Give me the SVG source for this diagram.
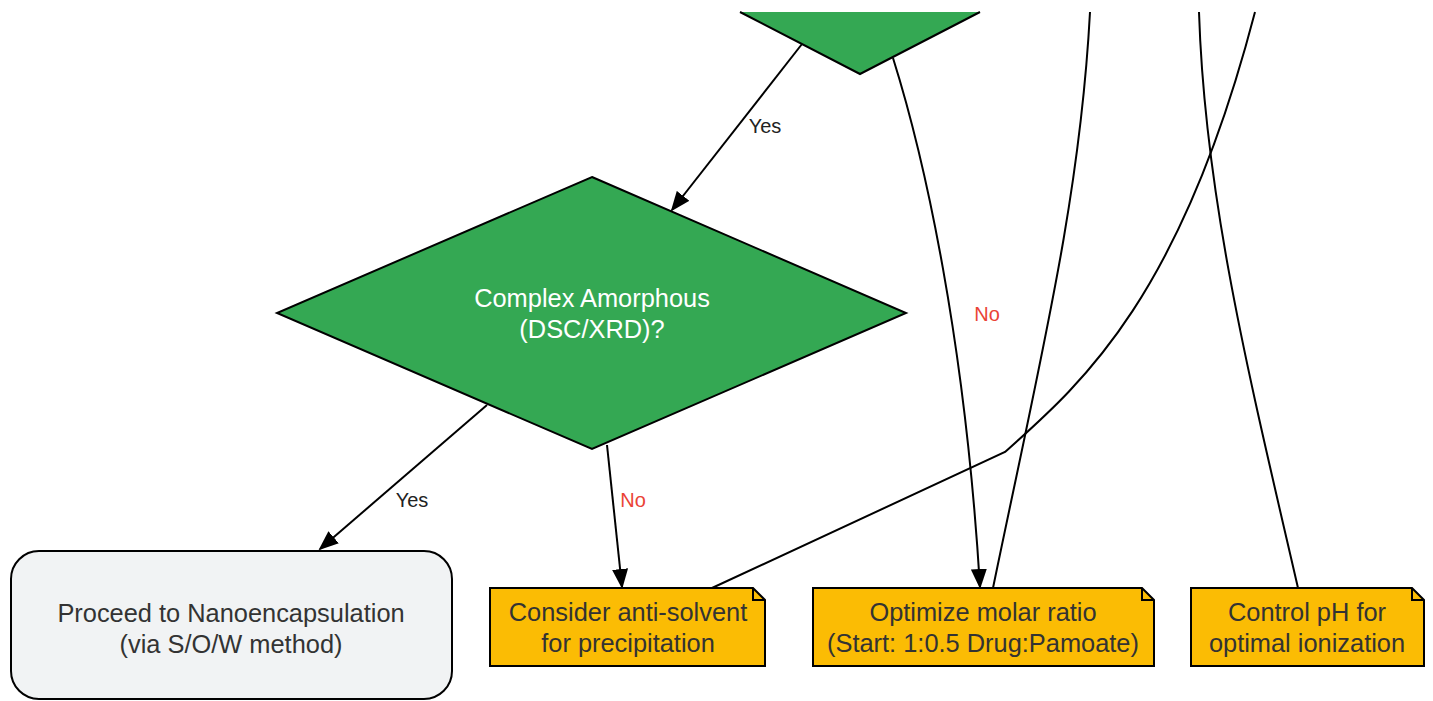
<svg xmlns="http://www.w3.org/2000/svg" width="1433" height="701" viewBox="0 0 1433 701">
<style>
.t{font-family:"Liberation Sans",Arial,sans-serif;font-size:25.4px;text-anchor:middle}
.dt{fill:#ffffff}
.nt{fill:#333333}
.lb{font-family:"Liberation Sans",Arial,sans-serif;font-size:20px;text-anchor:middle;fill:#222222}
.red{fill:#ea4335}
.dia{fill:#34a853;stroke:#000;stroke-width:2}
.note{fill:#fbbc04;stroke:#000;stroke-width:2}
.e{fill:none;stroke:#000;stroke-width:2}
</style>
<defs>
<marker id="ah" markerWidth="10" markerHeight="8" refX="9" refY="4" orient="auto" markerUnits="strokeWidth">
<path d="M0,0 L10,4 L0,8 Z" fill="#000"/>
</marker>
</defs>
<rect width="1433" height="701" fill="#fff"/>
<g id="connectors">
<path class="e" d="M802,44 L672,210" marker-end="url(#ah)"/>
<path class="e" d="M893,58 C925,160 965,340 980,587" marker-end="url(#ah)"/>
<path class="e" d="M487,405 L320,549" marker-end="url(#ah)"/>
<path class="e" d="M607,445 L622,587" marker-end="url(#ah)"/>
<path class="e" d="M712,588 L1005,452 C1080,385 1180,300 1255,12"/>
<path class="e" d="M993,588 C1040,360 1080,200 1090,12"/>
<path class="e" d="M1298,588 C1250,380 1205,200 1199,12"/>
<text class="lb" x="765" y="133">Yes</text>
<text class="lb red" x="987" y="321">No</text>
<text class="lb" x="412" y="507">Yes</text>
<text class="lb red" x="633" y="507">No</text>
</g>
<g id="decision-top">
<polygon points="740,12 860,74 980,12" fill="#34a853"/>
<polyline class="e" points="740,12 860,74 980,12"/>
</g>
<g id="decision-amorphous">
<polygon class="dia" points="592,177 906,313 592,449 277,313"/>
<text class="t dt" x="592" y="307">Complex Amorphous</text>
<text class="t dt" x="592" y="338">(DSC/XRD)?</text>
</g>
<g id="proceed">
<rect x="11" y="551" width="441" height="148" rx="28" fill="#f1f3f4" stroke="#000" stroke-width="2"/>
<text class="t nt" x="231" y="622">Proceed to Nanoencapsulation</text>
<text class="t nt" x="231" y="653">(via S/O/W method)</text>
</g>
<g id="note-antisolvent">
<path class="note" d="M490,588 L753,588 L765,600 L765,666 L490,666 Z"/>
<path class="e" d="M753,588 L753,600 L765,600"/>
<text class="t nt" x="628" y="621">Consider anti-solvent</text>
<text class="t nt" x="628" y="652">for precipitation</text>
</g>
<g id="note-molar">
<path class="note" d="M813,588 L1142,588 L1154,600 L1154,666 L813,666 Z"/>
<path class="e" d="M1142,588 L1142,600 L1154,600"/>
<text class="t nt" x="983" y="621">Optimize molar ratio</text>
<text class="t nt" x="983" y="652">(Start: 1:0.5 Drug:Pamoate)</text>
</g>
<g id="note-ph">
<path class="note" d="M1191,588 L1412,588 L1424,600 L1424,666 L1191,666 Z"/>
<path class="e" d="M1412,588 L1412,600 L1424,600"/>
<text class="t nt" x="1307" y="621">Control pH for</text>
<text class="t nt" x="1307" y="652">optimal ionization</text>
</g>
</svg>
